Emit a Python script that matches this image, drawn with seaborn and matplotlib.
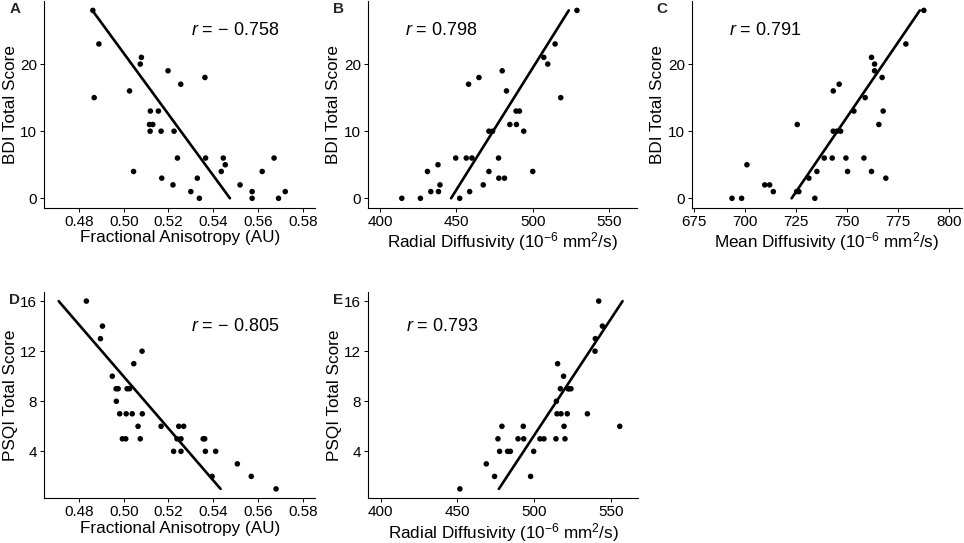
import numpy as np
import pandas as pd
import matplotlib
matplotlib.use("Agg")
import matplotlib.pyplot as plt
import seaborn as sns

# BDI scores (same subjects in panels A-C) with three imaging measures
fa_bdi = [0.4862, 0.4889, 0.4868, 0.5079, 0.5074, 0.5026, 0.5044, 0.5198, 0.5255, 0.5363,
          0.5119, 0.5155, 0.5115, 0.5130, 0.5118, 0.5167, 0.5225, 0.5240, 0.5366, 0.5170,
          0.5220, 0.5300, 0.5329, 0.5338, 0.5445, 0.5454, 0.5436, 0.5520, 0.5574, 0.5574,
          0.5619, 0.5672, 0.5692, 0.5722]
bdi_a = [28, 23, 15, 21, 20, 16, 4, 19, 17, 18,
         13, 13, 11, 11, 10, 10, 10, 6, 6, 3,
         2, 1, 3, 0, 6, 5, 4, 2, 1, 0,
         4, 6, 0, 1]

rd_bdi = [528.9, 514.6, 507.2, 509.8, 480.0, 464.8, 458.0, 482.8, 518.3, 489.1,
          491.3, 485.0, 489.3, 471.3, 473.7, 494.1, 449.6, 456.5, 460.2, 477.6,
          438.0, 431.1, 471.3, 500.0, 439.3, 467.6, 477.8, 481.5, 433.3, 438.3,
          458.7, 414.3, 426.5, 452.2]
bdi_b = [28, 23, 21, 20, 19, 18, 17, 16, 15, 13,
         13, 11, 11, 10, 10, 10, 6, 6, 6, 6,
         5, 4, 4, 4, 2, 2, 3, 3, 1, 1,
         1, 0, 0, 0]

md_bdi = [787.5, 778.7, 761.9, 763.4, 763.4, 767.1, 746.1, 743.2, 758.8, 753.3,
          767.6, 725.6, 765.5, 743.2, 745.0, 746.8, 738.8, 742.7, 749.4, 758.2,
          701.0, 735.2, 750.2, 761.9, 731.3, 768.9, 709.7, 712.1, 713.9, 725.3,
          726.4, 693.7, 698.4, 734.2]
bdi_c = [28, 23, 21, 20, 19, 18, 17, 16, 15, 13,
         13, 11, 11, 10, 10, 10, 6, 6, 6, 6,
         5, 4, 4, 4, 3, 3, 2, 2, 1, 1,
         1, 0, 0, 0]

# PSQI scores (panels D-E)
fa_psqi = [0.4833, 0.4905, 0.4896, 0.5082, 0.5045, 0.4949, 0.4966, 0.4975, 0.5015, 0.5026,
           0.4967, 0.4982, 0.5011, 0.5038, 0.5083, 0.5064, 0.5167, 0.5246, 0.5268, 0.4994,
           0.5009, 0.5074, 0.5238, 0.5256, 0.5355, 0.5362, 0.5223, 0.5256, 0.5365, 0.5411,
           0.5508, 0.5570, 0.5395, 0.5681]
psqi_d = [16, 14, 13, 12, 11, 10, 9, 9, 9, 9,
          8, 7, 7, 7, 7, 6, 6, 6, 6, 5,
          5, 5, 5, 5, 5, 5, 4, 4, 4, 4,
          3, 2, 2, 1]

rd_psqi = [542.2, 544.6, 540.0, 539.8, 515.4, 519.3, 517.2, 522.2, 524.1, 523.0,
           514.6, 515.0, 517.6, 521.7, 534.8, 479.1, 493.0, 519.6, 555.9, 476.5,
           489.6, 493.3, 503.9, 506.5, 514.3, 520.2, 477.6, 482.8, 484.6, 499.8,
           468.9, 474.3, 497.8, 451.7]
psqi_e = [16, 14, 13, 12, 11, 10, 9, 9, 9, 9,
          8, 7, 7, 7, 7, 6, 6, 6, 6, 5,
          5, 5, 5, 5, 5, 5, 4, 4, 4, 4,
          3, 2, 2, 1]

letters = ["A", "B", "C", "D", "E"]
r_labels = ["\u2212 0.758", "0.798", "0.791", "\u2212 0.805", "0.793"]
x_titles = ["Fractional Anisotropy (AU)",
            "Radial Diffusivity (10$^{-6}$ mm$^{2}$/s)",
            "Mean Diffusivity (10$^{-6}$ mm$^{2}$/s)",
            "Fractional Anisotropy (AU)",
            "Radial Diffusivity (10$^{-6}$ mm$^{2}$/s)"]
y_titles = ["BDI Total Score", "BDI Total Score", "BDI Total Score",
            "PSQI Total Score", "PSQI Total Score"]
fa_ticks = [0.48, 0.50, 0.52, 0.54, 0.56, 0.58]
rd_ticks = [400, 450, 500, 550]
md_ticks = [675, 700, 725, 750, 775, 800]
bdi_ticks = [0, 10, 20]
psqi_ticks = [4, 8, 12, 16]

sns.set_theme(style="ticks")
plt.rcParams["font.family"] = ["Liberation Sans", "DejaVu Sans"]
plt.rcParams["mathtext.fontset"] = "custom"
plt.rcParams["mathtext.rm"] = "Liberation Sans"
plt.rcParams["mathtext.it"] = "Liberation Sans:italic"

W, H = 964, 543
fig = plt.figure(figsize=(W / 100, H / 100), dpi=100)


def px_axes(left, right, top, bottom):
    return fig.add_axes([left / W, 1 - bottom / H, (right - left) / W, (bottom - top) / H])


panels = [
    (fa_bdi, bdi_a, (0.47, 0.58), fa_ticks, bdi_ticks, (0.55, 25), (44.3, 315, 1, 207.7)),
    (rd_bdi, bdi_b, (400, 560), rd_ticks, bdi_ticks, (440, 25), (367.7, 636.7, 1, 207.7)),
    (md_bdi, bdi_c, (680, 800), md_ticks, bdi_ticks, (710, 25), (691.7, 961.7, 1, 207.7)),
    (fa_psqi, psqi_d, (0.47, 0.58), fa_ticks, psqi_ticks, (0.55, 14), (44.3, 315, 291.7, 498.3)),
    (rd_psqi, psqi_e, (400, 560), rd_ticks, psqi_ticks, (440, 14), (368.3, 638.3, 291.7, 498.3)),
]

for i, (xv, yv, xlim, xt, yt, rpos, box) in enumerate(panels):
    ax = px_axes(*box)
    df = pd.DataFrame({"x": xv, "y": yv})
    sns.scatterplot(data=df, x="x", y="y", ax=ax, color="black", s=16,
                    edgecolor="none", linewidth=0)

    # fitted line (x regressed on y), drawn over the observed score range
    c, a = np.polyfit(df["y"], df["x"], 1)
    ymin, ymax = df["y"].min(), df["y"].max()
    fit = pd.DataFrame({"y": [ymin, ymax]})
    fit["x"] = a + c * fit["y"]
    sns.lineplot(data=fit, x="x", y="y", ax=ax, color="black", linewidth=1.9,
                 sort=False)

    xpad = (xlim[1] - xlim[0]) * 0.05
    ypad = (ymax - ymin) * 0.05
    ax.set_xlim(xlim[0] - xpad, xlim[1] + xpad)
    ax.set_ylim(ymin - ypad, ymax + ypad)
    ax.set_xticks(xt)
    ax.set_yticks(yt)
    if xt == fa_ticks:
        ax.set_xticklabels([f"{t:.2f}" for t in xt])

    ax.text(rpos[0], rpos[1], "$r$ = " + r_labels[i], ha="center", va="center",
            fontsize=13, color="black")

    ax.set_xlabel(x_titles[i], fontsize=12.3, color="black", labelpad=1)
    ax.set_ylabel(y_titles[i], fontsize=12.3, color="black", labelpad=2)
    ax.tick_params(axis="both", labelsize=11, colors="black", length=3,
                   width=0.7, pad=2)
    for side in ["left", "bottom"]:
        ax.spines[side].set_color("black")
        ax.spines[side].set_linewidth(0.8)
    sns.despine(ax=ax)

    fig.text((box[0] - 35) / W, 1 - (box[2] + 8) / H, letters[i], fontsize=11,
             fontweight="bold", ha="left", va="center")

fig.savefig("out.png", dpi=100)
